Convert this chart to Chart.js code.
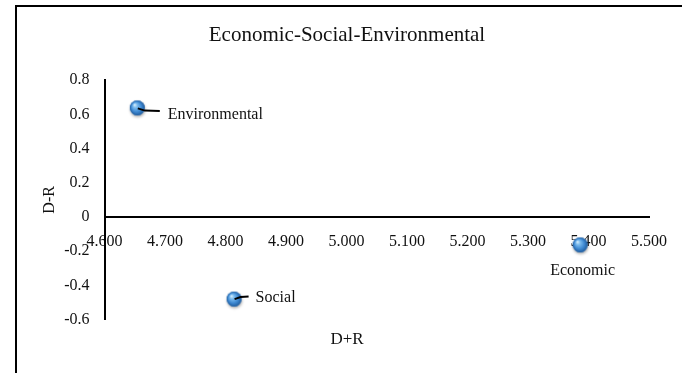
<!DOCTYPE html>
<html><head><meta charset="utf-8">
<script src="https://cdn.jsdelivr.net/npm/chart.js@4"></script>
<style>
html,body{margin:0;padding:0;background:#fff;overflow:hidden}
#wrap{position:relative;width:682px;height:373px}
#frame{position:absolute;left:15px;top:5px;width:720px;height:420px;border-left:2px solid #000;border-top:2px solid #000;box-sizing:border-box;pointer-events:none}
canvas{position:absolute;left:0;top:0}
</style></head><body>
<div id="wrap"><canvas id="c" width="682" height="373"></canvas><div id="frame"></div></div>
<script>
// ---- data ----
const categories = ['Economic', 'Social', 'Environmental'];
const dPlusR = [5.387, 4.815, 4.655];
const dMinusR = [-0.166, -0.483, 0.635];
const xTickValues = [4.6, 4.7, 4.8, 4.9, 5.0, 5.1, 5.2, 5.3, 5.4, 5.5];
const xTickLabels = ['4.600', '4.700', '4.800', '4.900', '5.000', '5.100', '5.200', '5.300', '5.400', '5.500'];
const yTickValues = [-0.6, -0.4, -0.2, 0, 0.2, 0.4, 0.6, 0.8];
const yTickLabels = ['-0.6', '-0.4', '-0.2', '0', '0.2', '0.4', '0.6', '0.8'];
const chartTitle = 'Economic-Social-Environmental';
const xTitle = 'D+R';
const yTitle = 'D-R';

// ---- label placement (style, relative to each point) ----
const labelStyle = {
  Economic: { tx: 2, ty: 25, align: 'center', leader: null },
  Social: { tx: 21, ty: -1.5, align: 'left', leader: [[0, -0.5], [6, -2.5], [14, -3]] },
  Environmental: { tx: 30, ty: 6.5, align: 'left', leader: [[0, 0], [7, 2.2], [22, 2.5]] }
};

const FONT = "'Liberation Serif', 'Times New Roman', serif";
const TXT = '#111';

// sphere sprite for points
function makeSphere() {
  const c = document.createElement('canvas');
  c.width = 24; c.height = 24;
  const g = c.getContext('2d');
  const cx = 11.5, cy = 11.5, r = 7.5;
  g.save();
  g.shadowColor = 'rgba(0,0,0,0.35)';
  g.shadowBlur = 3; g.shadowOffsetX = 0.5; g.shadowOffsetY = 1.5;
  g.beginPath(); g.arc(cx, cy, r, 0, Math.PI * 2);
  g.fillStyle = '#2f75bd'; g.fill();
  g.restore();
  const grad = g.createRadialGradient(cx - 2.8, cy - 3.2, 0.4, cx, cy, r);
  grad.addColorStop(0, '#d6eefc');
  grad.addColorStop(0.25, '#7dbcee');
  grad.addColorStop(0.65, '#3f8ad3');
  grad.addColorStop(1, '#1f5b9c');
  g.beginPath(); g.arc(cx, cy, r, 0, Math.PI * 2);
  g.fillStyle = grad; g.fill();
  return c;
}

const pointLabels = {
  id: 'pointLabels',
  afterDatasetsDraw(chart) {
    const ctx = chart.ctx;
    const meta = chart.getDatasetMeta(0);
    ctx.save();
    meta.data.forEach((el, i) => {
      const name = categories[i];
      const st = labelStyle[name];
      const x = el.x, y = el.y;
      if (st.leader) {
        ctx.beginPath();
        st.leader.forEach((p, k) => { k ? ctx.lineTo(x + p[0], y + p[1]) : ctx.moveTo(x + p[0], y + p[1]); });
        ctx.strokeStyle = '#000'; ctx.lineWidth = 2; ctx.stroke();
      }
      ctx.font = '16px ' + FONT;
      ctx.fillStyle = TXT;
      ctx.textAlign = st.align;
      ctx.textBaseline = 'middle';
      ctx.fillText(name, x + st.tx, y + st.ty);
    });
    ctx.restore();
  }
};

new Chart(document.getElementById('c'), {
  type: 'scatter',
  data: {
    datasets: [{
      label: chartTitle,
      data: categories.map((c, i) => ({ x: dPlusR[i], y: dMinusR[i] })),
      pointStyle: makeSphere(),
      pointRadius: 8,
      pointHoverRadius: 8
    }]
  },
  options: {
    responsive: false,
    animation: false,
    events: [],
    layout: { padding: { left: 40, right: 28, top: 0, bottom: 0 } },
    plugins: {
      legend: { display: false },
      tooltip: { enabled: false },
      title: {
        display: true, text: chartTitle, color: TXT,
        font: { family: FONT, size: 21, weight: 'normal', lineHeight: 1.2 },
        padding: { top: 23, bottom: 32 }
      },
      subtitle: {
        display: true, text: xTitle, position: 'bottom', color: TXT,
        font: { family: FONT, size: 17, weight: 'normal', lineHeight: 1.2 },
        padding: { top: 10, bottom: 23 }
      }
    },
    scales: {
      x: {
        type: 'linear', position: { y: 0 },
        min: xTickValues[0], max: xTickValues[xTickValues.length - 1],
        afterBuildTicks: s => { s.ticks = xTickValues.map(v => ({ value: v })); },
        ticks: {
          color: TXT, font: { family: FONT, size: 16 }, padding: 15,
          maxRotation: 0, autoSkip: false,
          callback: (v, i) => xTickLabels[i]
        },
        grid: { display: false, drawTicks: false },
        border: { display: true, color: '#000', width: 2 }
      },
      y: {
        type: 'linear', position: 'left',
        min: yTickValues[0], max: yTickValues[yTickValues.length - 1],
        afterBuildTicks: s => { s.ticks = yTickValues.map(v => ({ value: v })); },
        afterFit: s => { s.width -= s.options.ticks.padding; },
        ticks: {
          color: TXT, font: { family: FONT, size: 16 }, padding: 15, autoSkip: false,
          callback: (v, i) => yTickLabels[i]
        },
        grid: { display: false, drawTicks: false },
        border: { display: true, color: '#000', width: 2 },
        title: {
          display: true, text: yTitle, color: TXT,
          font: { family: FONT, size: 16, weight: 'normal', lineHeight: 1.2 },
          padding: { top: 0, bottom: 5 }
        }
      }
    }
  },
  plugins: [pointLabels]
});
</script>
</body></html>
